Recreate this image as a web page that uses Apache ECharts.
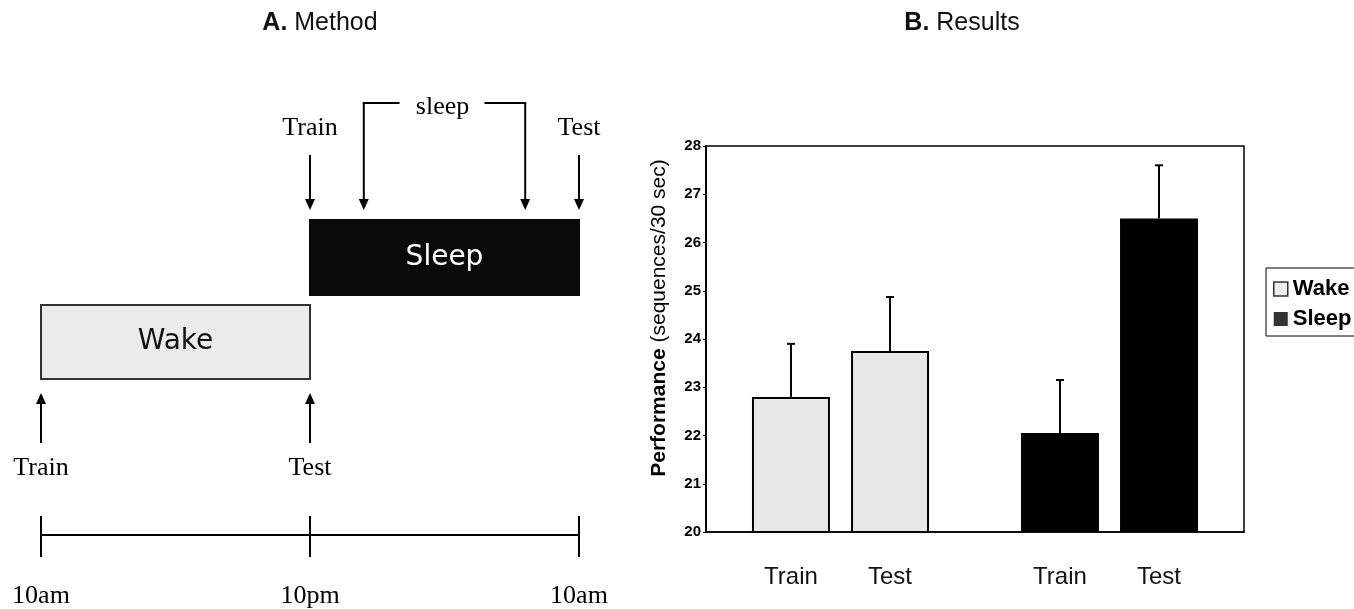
<!DOCTYPE html>
<html><head><meta charset="utf-8">
<script src="https://cdn.jsdelivr.net/npm/echarts@6/dist/echarts.min.js"></script>
<style>html,body{margin:0;padding:0;background:#fff}#c{width:1354px;height:609px}</style>
</head><body><div id="c"></div>
<script>
// ---------- Panel B (Results) data ----------
const groups = ['Wake', 'Sleep'];
const sessions = ['Train', 'Test'];
const trainMeans = [22.8, 22.05];
const testMeans = [23.75, 26.5];
const trainSem = [1.1, 1.1];
const testSem = [1.12, 1.1];
const yMin = 20, yMax = 28, yStep = 1;

// ---------- Panel A (Method) data ----------
const timeTicks = [0, 12, 24];            // hours after 10am
const timeLabels = ['10am', '10pm', '10am'];
const phaseNames = ['Wake', 'Sleep'];
const phaseStart = [0, 12];
const phaseEnd = [12, 24];
const sessionHours = [[0, 12], [12, 24]]; // per phase: Train, Test
const sleepMarkHours = [14.4, 21.6];

// ---------- styles / layout ----------
const SANS = '"Liberation Sans", Arial, sans-serif';
const SERIF = '"Liberation Serif", "Times New Roman", serif';
const BOXFONT = '"DejaVu Sans", Verdana, sans-serif';
const WAKE_FILL = '#e8e8e8';
const BAR_W = 78, BAR_GAP = 0.27;
const BAR_OFFSET = BAR_W * (1 + BAR_GAP) / 2;
const PHASE_LAYOUT = [
  {top: 305, bottom: 379, fill: '#ebebeb', stroke: '#333', text: '#111'},
  {top: 220, bottom: 295, fill: '#0a0a0a', stroke: '#0a0a0a', text: '#fff'}
];

function arrow(x, yFrom, yTip, children) {
  const dir = yTip > yFrom ? 1 : -1;
  const base = yTip - dir * 11;
  children.push({type: 'line', shape: {x1: x, y1: yFrom, x2: x, y2: base}, style: {stroke: '#000', lineWidth: 2}});
  children.push({type: 'polygon', shape: {points: [[x - 5, base], [x + 5, base], [x, yTip]]}, style: {fill: '#000'}});
}

const chart = echarts.init(document.getElementById('c'));
const option = {
  animation: false,
  backgroundColor: '#fff',
  graphic: [
    {type: 'text', x: 320, y: 23, style: {text: '{b|A.} Method', rich: {b: {fontWeight: 'bold', fontSize: 25, fontFamily: SANS, fill: '#111'}}, fontSize: 25, fontFamily: SANS, fill: '#111', align: 'center', verticalAlign: 'middle'}},
    {type: 'text', x: 962, y: 23, style: {text: '{b|B.} Results', rich: {b: {fontWeight: 'bold', fontSize: 25, fontFamily: SANS, fill: '#111'}}, fontSize: 25, fontFamily: SANS, fill: '#111', align: 'center', verticalAlign: 'middle'}}
  ],
  legend: {
    data: [
      {name: 'Wake', itemStyle: {color: WAKE_FILL, borderColor: '#000', borderWidth: 1.5}},
      {name: 'Sleep', itemStyle: {color: '#000'}}
    ],
    orient: 'vertical', left: 1266, top: 268, icon: 'rect', itemWidth: 14, itemHeight: 14, itemGap: 8,
    padding: [10, 8, 6, 7], borderColor: '#000', borderWidth: 1, selectedMode: false,
    textStyle: {fontSize: 22, fontWeight: 'bold', fontFamily: SANS, color: '#000'}
  },
  grid: [
    {left: 706, top: 146, width: 538, height: 386, show: true, borderColor: '#000', borderWidth: 1.5},
    {left: 41, top: 516, width: 538, height: 21, show: false}
  ],
  xAxis: [
    {gridIndex: 0, type: 'category', data: groups,
     axisLine: {show: true, lineStyle: {color: '#000', width: 1.5}}, axisTick: {show: false},
     axisLabel: {margin: 33, formatter: () => sessions.map(s => '{a|' + s + '}').join(''),
       rich: {a: {width: 2 * BAR_OFFSET, align: 'center', fontSize: 24, fontFamily: SANS, color: '#111'}}}},
    {gridIndex: 1, type: 'value', min: timeTicks[0], max: timeTicks[timeTicks.length - 1], interval: 12,
     axisLine: {show: true, lineStyle: {color: '#000', width: 2}},
     axisTick: {show: true, length: 22, lineStyle: {color: '#000', width: 2}},
     splitLine: {show: true, lineStyle: {color: '#000', width: 2}},
     axisLabel: {formatter: v => timeLabels[timeTicks.indexOf(v)], fontFamily: SERIF, fontSize: 26, color: '#000', margin: 48}}
  ],
  yAxis: [
    {gridIndex: 0, type: 'value', min: yMin, max: yMax, interval: yStep,
     axisLine: {show: true, lineStyle: {color: '#000', width: 2}},
     axisTick: {show: true, length: 3, lineStyle: {color: '#000'}},
     splitLine: {show: false},
     axisLabel: {color: '#000', fontFamily: SANS, fontSize: 15, fontWeight: 'bold', margin: 5},
     name: '{b|Performance} {n|(sequences/30 sec)}', nameLocation: 'middle', nameGap: 36,
     nameTextStyle: {fontFamily: SANS, fontSize: 21, color: '#000', padding: [0, 0, 0, 42],
       rich: {b: {fontWeight: 'bold', fontSize: 21, fontFamily: SANS, color: '#000'},
              n: {fontSize: 21, fontFamily: SANS, color: '#000'}}}},
    {gridIndex: 1, type: 'value', min: 0, max: 1, show: false}
  ],
  series: [
    ...sessions.map((s, si) => ({
      type: 'bar', name: s, xAxisIndex: 0, yAxisIndex: 0,
      barWidth: BAR_W, barGap: (BAR_GAP * 100) + '%',
      data: (si === 0 ? trainMeans : testMeans).map((v, gi) => ({
        value: v,
        itemStyle: gi === 0 ? {color: WAKE_FILL, borderColor: '#000', borderWidth: 2} : {color: '#000', borderColor: '#000', borderWidth: 0}
      }))
    })),
    {type: 'scatter', name: 'Wake', xAxisIndex: 0, yAxisIndex: 0, data: [], itemStyle: {color: WAKE_FILL}},
    {type: 'scatter', name: 'Sleep', xAxisIndex: 0, yAxisIndex: 0, data: [], itemStyle: {color: '#000'}},
    {type: 'custom', name: 'SEM', xAxisIndex: 0, yAxisIndex: 0, z: 3,
     data: groups.flatMap((g, gi) => sessions.map((s, si) => [gi, (si ? testMeans : trainMeans)[gi], (si ? testSem : trainSem)[gi], si])),
     encode: {x: 0, y: 1},
     renderItem(params, api) {
       const gi = api.value(0), m = api.value(1), e = api.value(2), si = api.value(3);
       const p0 = api.coord([gi, m]), p1 = api.coord([gi, m + e]);
       const x = p0[0] + (si === 0 ? -1 : 1) * BAR_OFFSET;
       return {type: 'group', children: [
         {type: 'line', shape: {x1: x, y1: p0[1], x2: x, y2: p1[1]}, style: {stroke: '#000', lineWidth: 2}},
         {type: 'line', shape: {x1: x - 4, y1: p1[1], x2: x + 4, y2: p1[1]}, style: {stroke: '#000', lineWidth: 2}}
       ]};
     }},
    // Panel A: phase boxes
    {type: 'custom', name: 'phases', xAxisIndex: 1, yAxisIndex: 1,
     data: phaseNames.map((n, i) => [phaseStart[i], phaseEnd[i], i]),
     encode: {x: [0, 1]},
     renderItem(params, api) {
       const i = api.value(2), L = PHASE_LAYOUT[i];
       const x0 = api.coord([api.value(0), 0])[0], x1 = api.coord([api.value(1), 0])[0];
       return {type: 'group', children: [
         {type: 'rect', shape: {x: x0, y: L.top, width: x1 - x0, height: L.bottom - L.top}, style: {fill: L.fill, stroke: L.stroke, lineWidth: 2}},
         {type: 'text', style: {text: phaseNames[i], x: (x0 + x1) / 2, y: (L.top + L.bottom) / 2, align: 'center', verticalAlign: 'middle', fontSize: 28, fontFamily: BOXFONT, fill: L.text}}
       ]};
     }},
    // Panel A: session arrows + labels
    {type: 'custom', name: 'sessions', xAxisIndex: 1, yAxisIndex: 1,
     data: sessionHours.flatMap((hs, pi) => hs.map((h, si) => [h, pi, si])),
     encode: {x: 0},
     renderItem(params, api) {
       const x = api.coord([api.value(0), 0])[0], pi = api.value(1), si = api.value(2);
       const children = [];
       if (pi === 0) {
         arrow(x, 443, 393, children);
         children.push({type: 'text', style: {text: sessions[si], x: x, y: 468, align: 'center', verticalAlign: 'middle', fontSize: 26, fontFamily: SERIF, fill: '#000'}});
       } else {
         arrow(x, 155, 210, children);
         children.push({type: 'text', style: {text: sessions[si], x: x, y: 128, align: 'center', verticalAlign: 'middle', fontSize: 26, fontFamily: SERIF, fill: '#000'}});
       }
       return {type: 'group', children};
     }},
    // Panel A: sleep bracket
    {type: 'custom', name: 'sleepBracket', xAxisIndex: 1, yAxisIndex: 1,
     data: [[sleepMarkHours[0], sleepMarkHours[1]]],
     encode: {x: [0, 1]},
     renderItem(params, api) {
       const xa = api.coord([api.value(0), 0])[0], xb = api.coord([api.value(1), 0])[0];
       const mid = (xa + xb) / 2, y = 103;
       const children = [
         {type: 'line', shape: {x1: xa - 1, y1: y, x2: mid - 45, y2: y}, style: {stroke: '#000', lineWidth: 2}},
         {type: 'line', shape: {x1: mid + 40, y1: y, x2: xb + 1, y2: y}, style: {stroke: '#000', lineWidth: 2}},
         {type: 'text', style: {text: 'sleep', x: mid - 2, y: 107, align: 'center', verticalAlign: 'middle', fontSize: 26, fontFamily: SERIF, fill: '#000'}}
       ];
       arrow(xa, y, 210, children);
       arrow(xb, y, 210, children);
       return {type: 'group', children};
     }}
  ]
};
chart.setOption(option);
</script>
</body></html>
